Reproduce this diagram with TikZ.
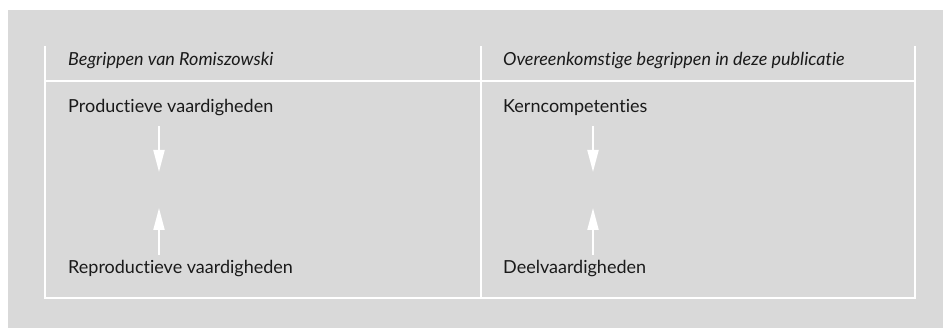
\documentclass[tikz,border=0pt]{standalone}
\usepackage{fontspec}
\setmainfont[Ligatures={NoCommon,NoRare}]{Lato}
\usetikzlibrary{arrows.meta}
\definecolor{bggray}{HTML}{D9D9D9}
\definecolor{txt}{HTML}{1A1A1A}
\begin{document}
\begin{tikzpicture}[x=1pt,y=-1pt,
  rule/.style={draw=white,line width=2pt},
  headtxt/.style={anchor=base west,inner sep=0pt,text=txt,font=\fontsize{18}{21}\selectfont\itshape},
  celltxt/.style={anchor=base west,inner sep=0pt,text=txt,font=\fontsize{18}{21}\selectfont},
  flow/.style={draw=white,line width=2pt,-{Triangle[width=11pt,length=22pt]}}]
\useasboundingbox (0,0) rectangle (943,328);
\fill[bggray] (8,10) rectangle (943,328);
% table rules
\draw[rule] (45,46) -- (45,298) -- (915,298) -- (915,46);
\draw[rule] (481,46) -- (481,298);
\draw[rule] (45,81) -- (915,81);
% texts
\node[headtxt] (h1) at (68,66) {Begrippen van Romiszowski};
\node[headtxt] (h2) at (503,66) {Overeenkomstige begrippen in deze publicatie};
\node[celltxt] (a1) at (68,113) {Productieve vaardigheden};
\node[celltxt] (b1) at (68,274) {Reproductieve vaardigheden};
\node[celltxt] (a2) at (503,113) {Kerncompetenties};
\node[celltxt] (b2) at (503,274) {Deelvaardigheden};
% arrow ends
\coordinate (a1s) at (159,126);
\coordinate (a1e) at (159,172);
\coordinate (b1s) at (159,255);
\coordinate (b1e) at (159,208);
\coordinate (a2s) at (593,126);
\coordinate (a2e) at (593,172);
\coordinate (b2s) at (593,255);
\coordinate (b2e) at (593,208);
\draw[flow] (a1s) -- (a1e);
\draw[flow] (b1s) -- (b1e);
\draw[flow] (a2s) -- (a2e);
\draw[flow] (b2s) -- (b2e);
\end{tikzpicture}
\end{document}
